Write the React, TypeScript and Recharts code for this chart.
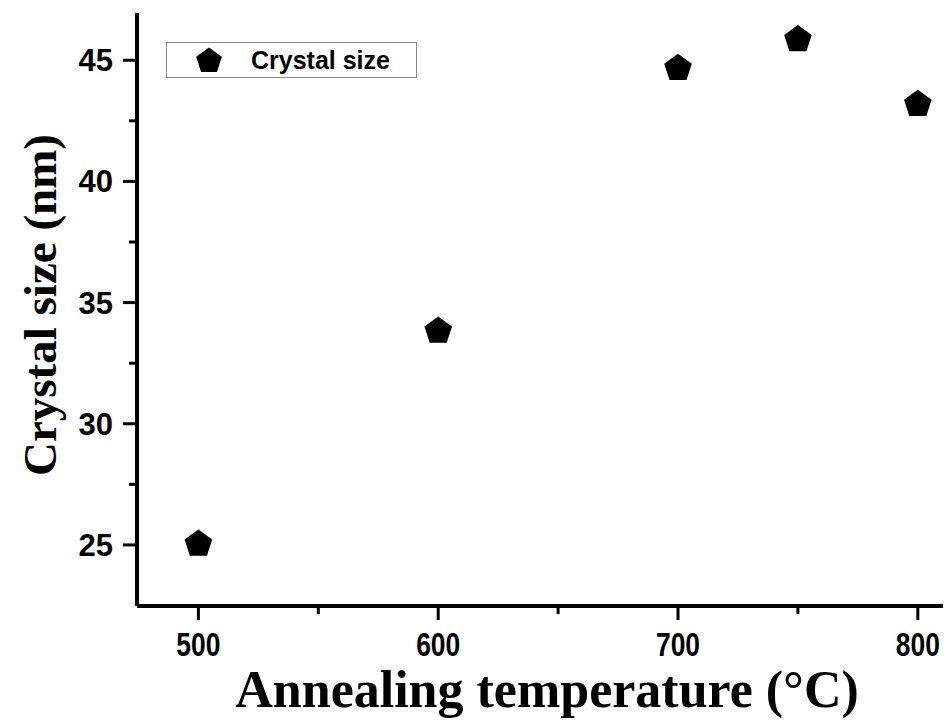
import { ScatterChart, Scatter, XAxis, YAxis, Legend } from 'recharts';

const temperatures = [500, 600, 700, 750, 800];
const crystalSizes = [25.08, 33.87, 44.71, 45.9, 43.23];
const xTicks = [500, 550, 600, 650, 700, 750, 800];
const yTicks = [25, 27.5, 30, 32.5, 35, 37.5, 40, 42.5, 45];

const data = temperatures.map((t, i) => ({ temp: t, size: crystalSizes[i] }));

const tickFont = 'Arial, "Liberation Sans", sans-serif';
const titleFont = '"Times New Roman", "Liberation Serif", serif';

const pentagonPath = (cx: number, cy: number, r: number) => {
  const pts: string[] = [];
  for (let k = 0; k < 5; k++) {
    const a = -Math.PI / 2 + (k * 2 * Math.PI) / 5;
    pts.push(`${cx + r * Math.cos(a)},${cy + r * Math.sin(a)}`);
  }
  return `M${pts.join('L')}Z`;
};

const Pentagon = (props: any) => {
  const { cx, cy } = props;
  if (cx == null || cy == null) return null;
  return <path d={pentagonPath(cx, cy + 1, 14.5)} fill="#000" />;
};

const XTick = (props: any) => {
  const { x, y, payload } = props;
  const major = payload.value % 100 === 0;
  return (
    <g>
      <line x1={x} x2={x} y1={y} y2={y + (major ? 14 : 8)} stroke="#000" strokeWidth={3} />
      {major && (
        <text
          x={x}
          y={y + 50}
          textAnchor="middle"
          fontFamily={tickFont}
          fontWeight="bold"
          fontSize={33}
          fill="#000"
          transform={`translate(${x},0) scale(0.8,1) translate(${-x},0)`}
        >
          {payload.value}
        </text>
      )}
    </g>
  );
};

const YTick = (props: any) => {
  const { x, y, payload } = props;
  const major = payload.value % 5 === 0;
  return (
    <g>
      <line x1={x} x2={x - (major ? 14 : 8)} y1={y} y2={y} stroke="#000" strokeWidth={3} />
      {major && (
        <text
          x={x - 24}
          y={y + 11}
          textAnchor="end"
          fontFamily={tickFont}
          fontWeight="bold"
          fontSize={31}
          fill="#000"
        >
          {payload.value}
        </text>
      )}
    </g>
  );
};

const LegendBox = () => (
  <div
    style={{
      display: 'flex',
      alignItems: 'center',
      width: 251,
      height: 36,
      border: '1.5px solid #888',
      background: '#fff',
      boxSizing: 'border-box',
    }}
  >
    <svg width={84} height={34}>
      <path d={pentagonPath(42, 18, 13.5)} fill="#000" />
    </svg>
    <span style={{ fontFamily: tickFont, fontWeight: 'bold', fontSize: 25, color: '#000' }}>
      Crystal size
    </span>
  </div>
);

export default function App() {
  return (
    <div style={{ position: 'absolute', left: 0, top: 0, background: '#fff' }}>
      <ScatterChart width={952} height={721} margin={{ top: 13, right: 9, bottom: 0, left: 0 }}>
        <XAxis
          type="number"
          dataKey="temp"
          domain={[474.4, 810.5]}
          ticks={xTicks}
          interval={0}
          allowDataOverflow
          height={79}
          tickSize={0}
          tickMargin={0}
          tick={(p: any) => <XTick {...p} />}
          axisLine={{ stroke: '#000', strokeWidth: 4 }}
          label={{
            content: () => (
              <text
                x={547}
                y={707}
                textAnchor="middle"
                fontFamily={titleFont}
                fontWeight="bold"
                fontSize={52}
                fill="#000"
              >
                Annealing temperature (°C)
              </text>
            ),
          }}
        />
        <XAxis xAxisId="top" orientation="top" type="number" domain={[474.4, 810.5]} height={0} tick={false} tickLine={false} axisLine={{ stroke: '#000', strokeWidth: 4 }} />
        <YAxis
          type="number"
          dataKey="size"
          domain={[22.48, 46.95]}
          ticks={yTicks}
          interval={0}
          allowDataOverflow
          width={137}
          tickSize={0}
          tickMargin={0}
          tick={(p: any) => <YTick {...p} />}
          axisLine={{ stroke: '#000', strokeWidth: 4 }}
          label={{
            content: () => (
              <text
                x={56}
                y={305}
                textAnchor="middle"
                fontFamily={titleFont}
                fontWeight="bold"
                fontSize={47}
                fill="#000"
                transform="rotate(-90, 56, 305)"
              >
                Crystal size (nm)
              </text>
            ),
          }}
        />
        <YAxis yAxisId="right" orientation="right" type="number" domain={[22.48, 46.95]} width={0} tick={false} tickLine={false} axisLine={{ stroke: '#000', strokeWidth: 4 }} />
        <Legend content={() => <LegendBox />} wrapperStyle={{ position: 'absolute', left: 166, top: 42, width: 'auto' }} />
        <Scatter data={data} name="Crystal size" shape={(p: any) => <Pentagon {...p} />} isAnimationActive={false} />
      </ScatterChart>
    </div>
  );
}
